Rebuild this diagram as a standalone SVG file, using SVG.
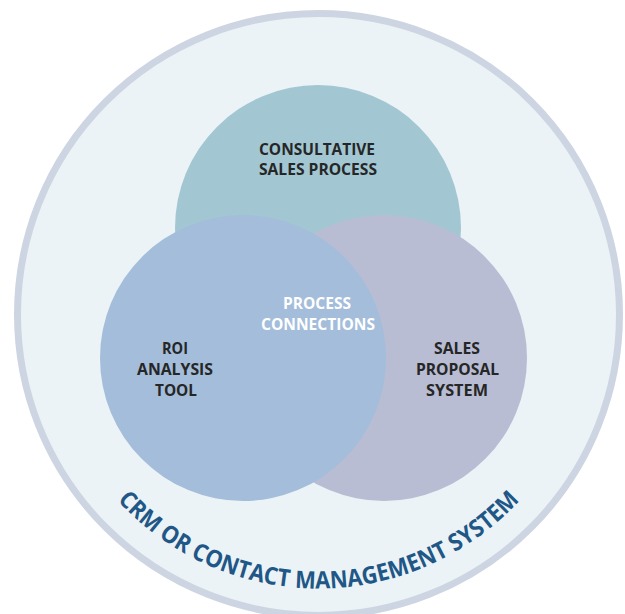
<svg xmlns="http://www.w3.org/2000/svg" width="625" height="614" viewBox="0 0 625 614">
  <style>
    .lbl { font-family: "Open Sans", "Liberation Sans", sans-serif; font-weight: 700; font-size: 15.5px; fill: #262626; text-anchor: middle; }
    .white { fill: #ffffff; }
    .crm { font-family: "Open Sans", "Liberation Sans", sans-serif; font-weight: 700; font-size: 24px; fill: #1f5787; }
  </style>
  <defs>
    <path id="crmArc" d="M 44.5 314.5 A 274 274 0 0 0 592.5 314.5"/>
  </defs>
  <rect width="625" height="614" fill="#ffffff"/>
  <g id="crm-system">
    <circle cx="318.5" cy="314.5" r="301" fill="#ebf3f6" stroke="#cdd5e2" stroke-width="7"/>
    <text class="crm"><textPath href="#crmArc" startOffset="50%" text-anchor="middle" textLength="452" lengthAdjust="spacingAndGlyphs">CRM OR CONTACT MANAGEMENT SYSTEM</textPath></text>
  </g>
  <g id="consultative-sales-process">
    <circle cx="318" cy="228" r="143" fill="#a2c7d3"/>
    <text class="lbl" x="317" y="154.5" textLength="116" lengthAdjust="spacingAndGlyphs">CONSULTATIVE</text>
    <text class="lbl" x="318" y="175" textLength="118" lengthAdjust="spacingAndGlyphs">SALES PROCESS</text>
  </g>
  <g id="sales-proposal-system">
    <circle cx="384" cy="358" r="143" fill="#b8bdd4"/>
    <text class="lbl" x="457" y="354" textLength="46" lengthAdjust="spacingAndGlyphs">SALES</text>
    <text class="lbl" x="457.5" y="375" textLength="83" lengthAdjust="spacingAndGlyphs">PROPOSAL</text>
    <text class="lbl" x="457" y="396" textLength="62" lengthAdjust="spacingAndGlyphs">SYSTEM</text>
  </g>
  <g id="roi-analysis-tool">
    <circle cx="243" cy="358" r="143" fill="#a3bdda"/>
    <text class="lbl" x="175" y="354" textLength="26" lengthAdjust="spacingAndGlyphs">ROI</text>
    <text class="lbl" x="175" y="375" textLength="76" lengthAdjust="spacingAndGlyphs">ANALYSIS</text>
    <text class="lbl" x="176" y="396" textLength="42" lengthAdjust="spacingAndGlyphs">TOOL</text>
  </g>
  <g id="process-connections">
    <text class="lbl white" x="317" y="309" textLength="68" lengthAdjust="spacingAndGlyphs">PROCESS</text>
    <text class="lbl white" x="318" y="329.5" textLength="114" lengthAdjust="spacingAndGlyphs">CONNECTIONS</text>
  </g>
</svg>
